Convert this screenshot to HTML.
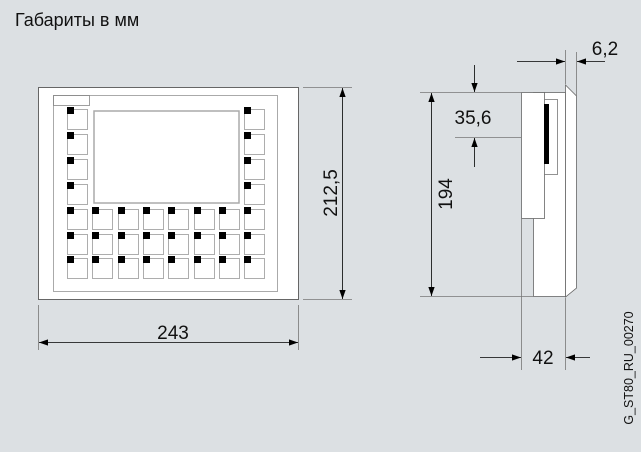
<!DOCTYPE html>
<html><head><meta charset="utf-8"><style>
html,body{margin:0;padding:0;background:#dce0e3;}
svg{display:block;}
text{font-family:"Liberation Sans",sans-serif;fill:#111;}
</style></head><body>
<svg width="641" height="452" viewBox="0 0 641 452" xmlns="http://www.w3.org/2000/svg">
<defs>
<marker id="a" viewBox="0 0 10 10" refX="10" refY="5" markerWidth="9" markerHeight="9" markerUnits="userSpaceOnUse" orient="auto"><path d="M0,1.5 L10,5 L0,8.5 z" fill="#000"/></marker>
</defs>
<rect width="641" height="452" fill="#dce0e3"/>
<text x="15" y="26" font-size="18">Габариты в мм</text>

<!-- front view -->
<rect x="38.5" y="87.5" width="260" height="212" fill="#fff" stroke="#666" stroke-width="1"/>
<rect x="53.5" y="95.5" width="224" height="196" fill="none" stroke="#aaa" stroke-width="1"/>
<rect x="53.5" y="95.5" width="36" height="10" fill="none" stroke="#888" stroke-width="0.8"/>
<rect x="94" y="111" width="145" height="92" fill="#fff" stroke="#aaa" stroke-width="1.5"/>

<!-- dims front -->
<g stroke="#777" stroke-width="0.8" fill="none">
<line x1="38.5" y1="305" x2="38.5" y2="350"/>
<line x1="298.5" y1="305" x2="298.5" y2="350"/>
<line x1="303" y1="87.5" x2="352" y2="87.5"/>
<line x1="303" y1="299.5" x2="352" y2="299.5"/>
</g>
<g stroke="#000" stroke-width="0.8">
<line x1="168" y1="342.5" x2="39" y2="342.5" marker-end="url(#a)"/>
<line x1="168" y1="342.5" x2="298" y2="342.5" marker-end="url(#a)"/>
<line x1="342.5" y1="193" x2="342.5" y2="88" marker-end="url(#a)"/>
<line x1="342.5" y1="193" x2="342.5" y2="299" marker-end="url(#a)"/>
</g>
<text x="173" y="339" font-size="19" text-anchor="middle">243</text>
<text transform="translate(337,193) rotate(-90)" font-size="19" text-anchor="middle">212,5</text>

<!-- side view -->
<rect x="533.5" y="92.5" width="32" height="204" fill="#fff" stroke="#666" stroke-width="0.8"/>
<rect x="521.5" y="92.5" width="23" height="126" fill="#fff" stroke="#666" stroke-width="0.8"/>
<rect x="544.5" y="99.5" width="13" height="75" fill="#fff" stroke="#777" stroke-width="0.8"/>
<rect x="544" y="104" width="5" height="60" fill="#000"/>
<path d="M565.5,85 L576.5,96 L576.5,288 L565.5,297 Z" fill="#fff" stroke="#666" stroke-width="0.8"/>

<g stroke="#777" stroke-width="0.8" fill="none">
<line x1="420" y1="92.5" x2="521" y2="92.5"/>
<line x1="420" y1="296.5" x2="533" y2="296.5"/>
<line x1="455" y1="137.5" x2="521" y2="137.5"/>
<line x1="521.5" y1="219" x2="521.5" y2="370"/>
<line x1="565.5" y1="298" x2="565.5" y2="370"/>
<line x1="565.5" y1="50" x2="565.5" y2="84"/>
<line x1="576.5" y1="52" x2="576.5" y2="96"/>
</g>
<g stroke="#000" stroke-width="0.8">
<line x1="431.5" y1="193" x2="431.5" y2="93" marker-end="url(#a)"/>
<line x1="431.5" y1="193" x2="431.5" y2="296" marker-end="url(#a)"/>
<line x1="474.5" y1="65" x2="474.5" y2="92" marker-end="url(#a)"/>
<line x1="474.5" y1="167" x2="474.5" y2="138" marker-end="url(#a)"/>
<line x1="517" y1="61.5" x2="565" y2="61.5" marker-end="url(#a)"/>
<line x1="605" y1="61.5" x2="577" y2="61.5" marker-end="url(#a)"/>
<line x1="480" y1="357.5" x2="521" y2="357.5" marker-end="url(#a)"/>
<line x1="590" y1="357.5" x2="566" y2="357.5" marker-end="url(#a)"/>
</g>
<text x="473" y="124" font-size="19" text-anchor="middle">35,6</text>
<text transform="translate(452,194) rotate(-90)" font-size="19" text-anchor="middle">194</text>
<text x="605" y="55" font-size="19" text-anchor="middle">6,2</text>
<text x="543" y="364" font-size="19" text-anchor="middle">42</text>
<text transform="translate(633,368) rotate(-90)" font-size="12.5" text-anchor="middle">G_ST80_RU_00270</text>

<!-- keys -->
<g fill="#fff" stroke="#999" stroke-width="0.8">
<rect x="67.5" y="109.5" width="20" height="20"/><rect x="67.5" y="134.5" width="20" height="20"/><rect x="67.5" y="159.5" width="20" height="20"/><rect x="67.5" y="184.5" width="20" height="20"/>
<rect x="244.5" y="109.5" width="20" height="20"/><rect x="244.5" y="134.5" width="20" height="20"/><rect x="244.5" y="159.5" width="20" height="20"/><rect x="244.5" y="184.5" width="20" height="20"/>
</g>
<g fill="#000">
<rect x="67" y="107" width="7" height="7"/><rect x="67" y="132" width="7" height="7"/><rect x="67" y="157" width="7" height="7"/><rect x="67" y="182" width="7" height="7"/>
<rect x="244" y="107" width="7" height="7"/><rect x="244" y="132" width="7" height="7"/><rect x="244" y="157" width="7" height="7"/><rect x="244" y="182" width="7" height="7"/>
</g>
<g fill="#fff" stroke="#999" stroke-width="0.8">
<rect x="67.5" y="209.5" width="20" height="20"/><rect x="92.5" y="209.5" width="20" height="20"/><rect x="118.5" y="209.5" width="20" height="20"/><rect x="143.5" y="209.5" width="20" height="20"/><rect x="168.5" y="209.5" width="20" height="20"/><rect x="194.5" y="209.5" width="20" height="20"/><rect x="219.5" y="209.5" width="20" height="20"/><rect x="244.5" y="209.5" width="20" height="20"/>
<rect x="67.5" y="234.5" width="20" height="20"/><rect x="92.5" y="234.5" width="20" height="20"/><rect x="118.5" y="234.5" width="20" height="20"/><rect x="143.5" y="234.5" width="20" height="20"/><rect x="168.5" y="234.5" width="20" height="20"/><rect x="194.5" y="234.5" width="20" height="20"/><rect x="219.5" y="234.5" width="20" height="20"/><rect x="244.5" y="234.5" width="20" height="20"/>
<rect x="67.5" y="258.5" width="20" height="20"/><rect x="92.5" y="258.5" width="20" height="20"/><rect x="118.5" y="258.5" width="20" height="20"/><rect x="143.5" y="258.5" width="20" height="20"/><rect x="168.5" y="258.5" width="20" height="20"/><rect x="194.5" y="258.5" width="20" height="20"/><rect x="219.5" y="258.5" width="20" height="20"/><rect x="244.5" y="258.5" width="20" height="20"/>
</g>
<g fill="#000">
<rect x="67" y="207" width="7" height="7"/><rect x="92" y="207" width="7" height="7"/><rect x="118" y="207" width="7" height="7"/><rect x="143" y="207" width="7" height="7"/><rect x="168" y="207" width="7" height="7"/><rect x="194" y="207" width="7" height="7"/><rect x="219" y="207" width="7" height="7"/><rect x="244" y="207" width="7" height="7"/>
<rect x="67" y="232" width="7" height="7"/><rect x="92" y="232" width="7" height="7"/><rect x="118" y="232" width="7" height="7"/><rect x="143" y="232" width="7" height="7"/><rect x="168" y="232" width="7" height="7"/><rect x="194" y="232" width="7" height="7"/><rect x="219" y="232" width="7" height="7"/><rect x="244" y="232" width="7" height="7"/>
<rect x="67" y="256" width="7" height="7"/><rect x="92" y="256" width="7" height="7"/><rect x="118" y="256" width="7" height="7"/><rect x="143" y="256" width="7" height="7"/><rect x="168" y="256" width="7" height="7"/><rect x="194" y="256" width="7" height="7"/><rect x="219" y="256" width="7" height="7"/><rect x="244" y="256" width="7" height="7"/>
</g>
</svg>
</body></html>
